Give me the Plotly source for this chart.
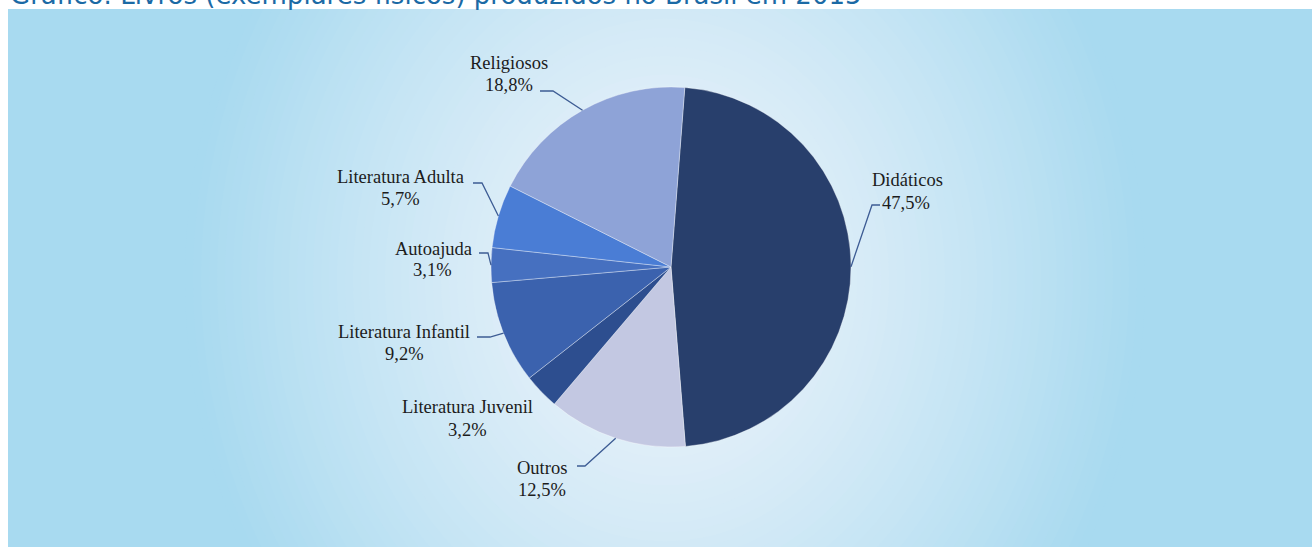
import numpy as np
import plotly.graph_objects as go

# ---------------- data ----------------
categories = ["Didáticos", "Outros", "Literatura Juvenil", "Literatura Infantil",
              "Autoajuda", "Literatura Adulta", "Religiosos"]
shares = [47.5, 12.5, 3.2, 9.2, 3.1, 5.7, 18.8]
pct_labels = ["47,5%", "12,5%", "3,2%", "9,2%", "3,1%", "5,7%", "18,8%"]
title_text = "Gráfico: Livros (exemplares físicos) produzidos no Brasil em 2015"

# ---------------- layout / style ----------------
W, H = 1312, 547
CX, CY, R = 671, 267, 180          # pie centre and radius in pixels
ROT = 4.4                          # start angle (deg, clockwise from 12 o'clock)
slice_colors = ["#283f6c", "#c3c8e2", "#2d4e8f", "#3b62ae", "#4670c0", "#4a7dd5", "#8ea3d7"]

# label placement: (name centre x, name y, pct centre x, pct y, leader points before anchor)
label_layout = {
    "Didáticos":           (907, 180, 906, 203, [(880, 205), (872, 205)]),
    "Outros":              (542, 468, 542, 490, [(577, 466), (585, 466)]),
    "Literatura Juvenil":  (467, 407, 467, 430, None),
    "Literatura Infantil": (404, 332, 404, 354, [(477, 337), (490, 337)]),
    "Autoajuda":           (433, 249, 432, 270, [(479, 253), (488, 253)]),
    "Literatura Adulta":   (400, 177, 400, 199, [(473, 183), (482, 183)]),
    "Religiosos":          (509, 63, 509, 85, [(540, 91), (553, 91)]),
}
LABEL_FONT = dict(family="Liberation Serif, Times New Roman, serif", size=18.5, color="#1c1c1c")
LEADER_COLOR = "#3d5c94"

fig = go.Figure()

# invisible helper trace so that pixel-based axes exist
fig.add_trace(go.Scatter(x=[None], y=[None], mode="markers", showlegend=False, hoverinfo="skip"))

# pie
fig.add_trace(go.Pie(
    labels=categories, values=shares, sort=False, direction="clockwise", rotation=ROT,
    textinfo="none", hoverinfo="label+percent", showlegend=False,
    marker=dict(colors=slice_colors, line=dict(color="rgba(255,255,255,0.35)", width=1)),
    domain=dict(x=[(CX - R) / W, (CX + R) / W], y=[(H - CY - R) / H, (H - CY + R) / H]),
))

shapes = []
# radial background gradient
c0 = np.array([238, 244, 251])
c1 = np.array([168, 218, 240])
GX, GY, AX, AY = 665, 280, 480, 560
N = 60
for i in range(N, 0, -1):
    t = i / N
    c = c0 + (c1 - c0) * (t ** 1.3)
    shapes.append(dict(type="circle", xref="x", yref="y", layer="below",
                       x0=GX - AX * t, x1=GX + AX * t, y0=GY - AY * t, y1=GY + AY * t,
                       fillcolor="rgb(%d,%d,%d)" % tuple(c.astype(int)), line=dict(width=0)))
# white margins (top strip and left strip)
shapes.append(dict(type="rect", xref="x", yref="y", layer="below", x0=0, x1=W, y0=0, y1=9,
                   fillcolor="white", line=dict(width=0)))
shapes.append(dict(type="rect", xref="x", yref="y", layer="below", x0=0, x1=8, y0=0, y1=H,
                   fillcolor="white", line=dict(width=0)))

# labels and leader lines computed from the slice geometry
annotations = []
total = sum(shares)
cum = 0.0
for cat, v, pct in zip(categories, shares, pct_labels):
    mid = np.radians(ROT + (cum + v / 2) / total * 360.0)
    cum += v
    ax_, ay_ = CX + R * np.sin(mid), CY - R * np.cos(mid)
    nx, ny, px, py, pts = label_layout[cat]
    annotations.append(dict(x=nx, y=ny, xref="x", yref="y", text=cat, showarrow=False,
                            xanchor="center", yanchor="middle", font=LABEL_FONT))
    annotations.append(dict(x=px, y=py, xref="x", yref="y", text=pct, showarrow=False,
                            xanchor="center", yanchor="middle", font=LABEL_FONT))
    if pts:
        path = "M %f %f" % pts[0] + "".join(" L %f %f" % p for p in pts[1:]) + " L %f %f" % (ax_, ay_)
        shapes.append(dict(type="path", xref="x", yref="y", layer="above", path=path,
                           line=dict(color=LEADER_COLOR, width=1.3)))

# title (cropped at the top, as in the reference)
annotations.append(dict(x=8, y=12, xref="x", yref="y", text=title_text, showarrow=False,
                        xanchor="left", yanchor="bottom",
                        font=dict(family="DejaVu Sans, Arial, sans-serif", size=26, color="#1b6aa5")))

fig.update_layout(
    width=W, height=H, margin=dict(l=0, r=0, t=0, b=0),
    paper_bgcolor="white", plot_bgcolor="rgb(168,218,240)",
    xaxis=dict(range=[0, W], visible=False, fixedrange=True),
    yaxis=dict(range=[H, 0], visible=False, fixedrange=True),
    shapes=shapes, annotations=annotations, showlegend=False,
)

fig.write_html("out.html", config={"displayModeBar": False},
               post_script="document.body.style.margin='0px';")
